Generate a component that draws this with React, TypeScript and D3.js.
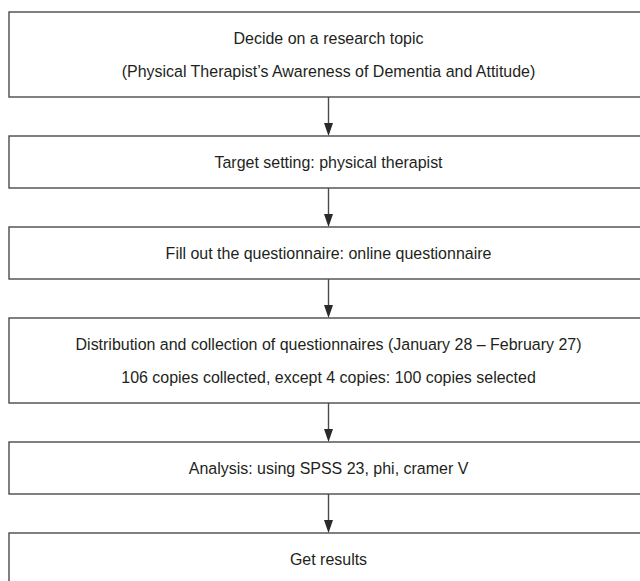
import * as d3 from "d3";

// Steps of the study flow, one entry per box, each a list of text lines.
const stepLabels: string[][] = [
  ["Decide on a research topic", "(Physical Therapist\u2019s Awareness of Dementia and Attitude)"],
  ["Target setting: physical therapist"],
  ["Fill out the questionnaire: online questionnaire"],
  [
    "Distribution and collection of questionnaires (January 28 \u2013 February 27)",
    "106 copies collected, except 4 copies: 100 copies selected",
  ],
  ["Analysis: using SPSS 23, phi, cramer V"],
  ["Get results"],
];

const WIDTH = 640;
const HEIGHT = 581;
const BOX_LEFT = 9;
const BOX_RIGHT = 648;
const TOP = 12;
const GAP = 39;
const BASE_H = 52;
const LINE_H = 33;
const STROKE = "#4a4a4a";
const TEXT = "#231f20";
const FONT = "'Liberation Sans', Arial, sans-serif";

type Box = { lines: string[]; y0: number; y1: number };

function layout(steps: string[][]): Box[] {
  const heights = steps.map((lines) => BASE_H + LINE_H * (lines.length - 1));
  const tops = d3.cumsum([TOP, ...heights.map((h) => h + GAP)]);
  return steps.map((lines, i) => ({ lines, y0: tops[i], y1: tops[i] + heights[i] }));
}

export default function App() {
  const boxes = layout(stepLabels);
  const cx = (BOX_LEFT + BOX_RIGHT) / 2;

  return (
    <svg width={WIDTH} height={HEIGHT} style={{ display: "block", position: "absolute", left: 0, top: 0 }}>
      <rect width={WIDTH} height={HEIGHT} fill="#fff" />
      {boxes.map((box, i) => {
        const mid = (box.y0 + box.y1) / 2;
        const first = mid - ((box.lines.length - 1) * LINE_H) / 2;
        const next = boxes[i + 1];
        return (
          <g key={i}>
            <rect
              x={BOX_LEFT}
              y={box.y0}
              width={BOX_RIGHT - BOX_LEFT}
              height={box.y1 - box.y0}
              fill="none"
              stroke={STROKE}
              strokeWidth={1.4}
            />
            {box.lines.map((line, j) => (
              <text
                key={j}
                transform={`translate(${cx},${first + j * LINE_H}) scale(0.94,1)`}
                dy="0.36em"
                textAnchor="middle"
                fontFamily={FONT}
                fontSize={17}
                fill={TEXT}
              >
                {line}
              </text>
            ))}
            {next && (
              <g>
                <line x1={cx} x2={cx} y1={box.y1} y2={next.y0 - 10} stroke={STROKE} strokeWidth={1.4} />
                <path d={`M${cx - 4.5},${next.y0 - 13} L${cx + 4.5},${next.y0 - 13} L${cx},${next.y0} Z`} fill="#2a2a2a" />
              </g>
            )}
          </g>
        );
      })}
    </svg>
  );
}
